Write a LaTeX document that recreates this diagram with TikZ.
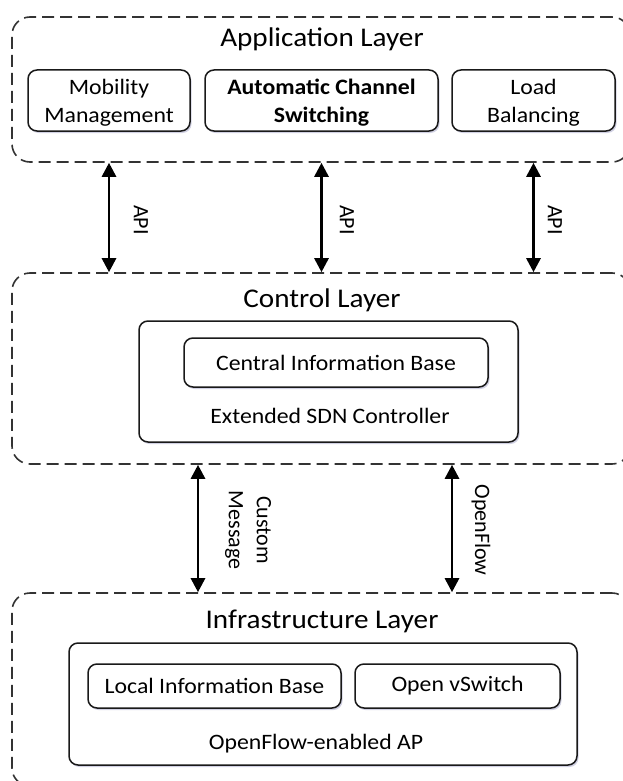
\documentclass[tikz,border=0pt]{standalone}
\usepackage{fontspec}
\setmainfont{Carlito}[FakeStretch=1.08]
\newfontfamily\rotfont{Carlito}
\usetikzlibrary{arrows.meta,shadows}
\tikzset{
  layer/.style={draw=black!80, line width=1.6pt, dash pattern=on 12pt off 6pt, rounded corners=18pt, inner sep=0pt},
  box/.style={draw=black!90, line width=1.5pt, rounded corners=9pt, fill=white, inner sep=0pt, align=center,
    font=\fontsize{22}{28}\selectfont,
    drop shadow={shadow xshift=1.5pt, shadow yshift=-2pt, opacity=.18, fill=blue!40!black}},
  title/.style={font=\fontsize{27}{32}\selectfont, anchor=base, inner sep=0pt},
  lbl/.style={font=\fontsize{22}{28}\selectfont, anchor=base, inner sep=0pt},
  biarrow/.style={line width=2.8pt, {Triangle[length=14pt,width=14pt]}-{Triangle[length=14pt,width=14pt]}},
  rot/.style={rotate=-90, font=\rotfont\fontsize{22}{28}\selectfont, align=center, inner sep=0pt}
}
\begin{document}
\begin{tikzpicture}[x=1pt,y=-1pt]
\useasboundingbox (0,0) rectangle (622,781);
% layers
\node[layer, minimum width=618pt, minimum height=145pt] (app) at (321,89.5) {};
\node[layer, minimum width=618pt, minimum height=191pt] (ctrl) at (321,368.5) {};
\node[layer, minimum width=618pt, minimum height=193pt] (infra) at (321,689.5) {};
% titles
\node[title] (tapp) at (322,47) {Application Layer};
\node[title] (tctrl) at (322,307) {Control Layer};
\node[title] (tinfra) at (322,628) {Infrastructure Layer};
% application boxes
\node[box, text depth=0pt, minimum width=162pt, minimum height=61pt] (mob) at (109,100.5) {Mobility\\Management};
\node[box, text depth=0pt, minimum width=233pt, minimum height=61pt, font=\fontsize{22}{28}\selectfont\bfseries] (acs) at (321.5,100.5) {Automatic Channel\\Switching};
\node[box, text depth=0pt, minimum width=163pt, minimum height=61pt] (lb) at (533.5,100.5) {Load\\Balancing};
% control boxes
\node[box, minimum width=379pt, minimum height=121pt] (sdn) at (328.5,381.5) {};
\node[box, minimum width=304pt, minimum height=49pt] (cib) at (336,362.5) {Central Information Base};
\node[lbl] (tsdn) at (330,423) {Extended SDN Controller};
% infrastructure boxes
\node[box, minimum width=508pt, minimum height=122pt] (ap) at (323,704) {};
\node[box, minimum width=253pt, minimum height=44pt] (lib) at (214.5,686) {Local Information Base};
\node[box, minimum width=205pt, minimum height=44pt] (ovs) at (457.5,686) {Open vSwitch};
\node[lbl] (tap) at (316,749) {OpenFlow-enabled AP};
% arrows
\coordinate (c1) at (198,0);
\coordinate (c2) at (452,0);
\draw[biarrow] (app.south -| mob) -- (ctrl.north -| mob);
\draw[biarrow] (app.south -| acs) -- (ctrl.north -| acs);
\draw[biarrow] (app.south -| lb) -- (ctrl.north -| lb);
\draw[biarrow] (ctrl.south -| c1) -- (infra.north -| c1);
\draw[biarrow] (ctrl.south -| c2) -- (infra.north -| c2);
% labels
\node[rot] (api1) at (141,220) {API};
\node[rot] (api2) at (347,220) {API};
\node[rot] (api3) at (555,220) {API};
\node[rot] (cm) at (248,530) {Custom\\Message};
\node[rot] (of) at (481,530) {OpenFlow};
\end{tikzpicture}
\end{document}
